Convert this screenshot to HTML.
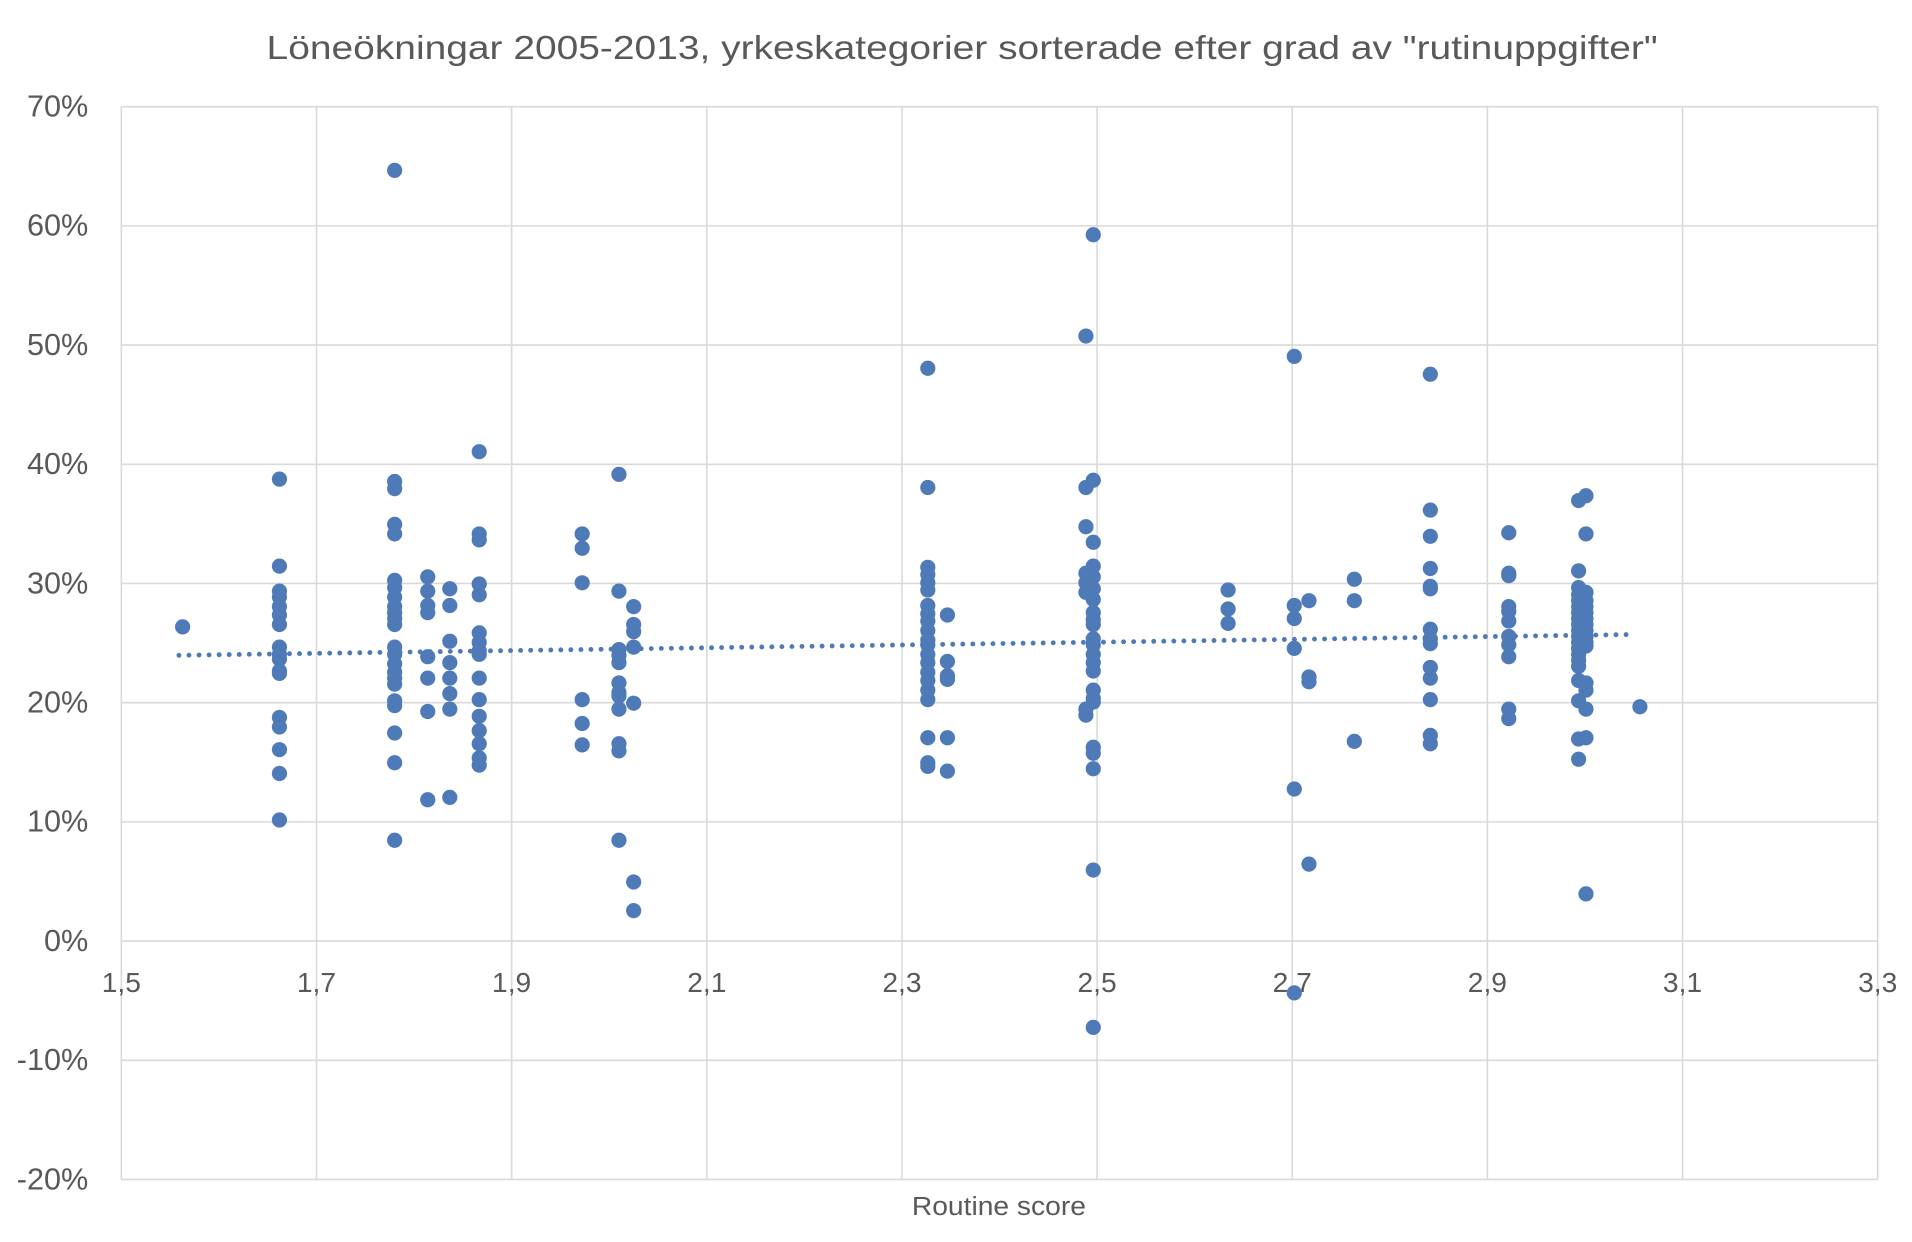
<!DOCTYPE html>
<html><head><meta charset="utf-8"><style>
html,body{margin:0;padding:0;background:#fff;}
svg{display:block;}
text{font-family:"Liberation Sans",sans-serif;fill:#595959;}
</style></head><body>
<svg id="s" width="1912" height="1242" viewBox="0 0 1560 1013" preserveAspectRatio="none" xmlns="http://www.w3.org/2000/svg">
<rect width="1560" height="1013" fill="#fff"/>
<g id="grid" stroke="#d9d9d9" stroke-width="1.3" fill="none"></g>
<g id="labels"></g>
<text x="785" y="48" font-size="27" text-anchor="middle" textLength="1135" lengthAdjust="spacingAndGlyphs">Löneökningar 2005-2013, yrkeskategorier sorterade efter grad av "rutinuppgifter"</text>
<text x="815" y="991" font-size="21" text-anchor="middle" textLength="142" lengthAdjust="spacingAndGlyphs">Routine score</text>
<line x1="146" y1="534.5" x2="1334" y2="517.5" stroke="#4f7ab8" stroke-width="4" stroke-linecap="round" stroke-dasharray="0 8.2"/>
<g id="pts" fill="#4f7ab8"></g>
</svg>
<script>
var ns="http://www.w3.org/2000/svg";
function el(p,t,a,txt){var e=document.createElementNS(ns,t);for(var k in a)e.setAttribute(k,a[k]);if(txt!=null)e.textContent=txt;p.appendChild(e);}
var g=document.getElementById('grid'),L=document.getElementById('labels'),P=document.getElementById('pts');
var x0=99,x1=1532,y0=87,y1=962;
for(var i=0;i<=9;i++){var y=y0+i*(y1-y0)/9;el(g,'line',{x1:x0,x2:x1,y1:y,y2:y});
 el(L,'text',{x:72,y:y+8,'font-size':25,'text-anchor':'end'},(70-i*10)+'%');}
var xl=['1,5','1,7','1,9','2,1','2,3','2,5','2,7','2,9','3,1','3,3'];
for(var i=0;i<=9;i++){var x=x0+i*(x1-x0)/9;el(g,'line',{x1:x,x2:x,y1:y0,y2:y1});
 el(L,'text',{x:x,y:809,'font-size':23,'text-anchor':'middle'},xl[i]);}
var D=[[149,[26.3]],
[228,[38.7,31.4,29.3,28.8,28,27.3,26.5,24.6,24,23.6,22.6,22.4,18.7,17.9,16,14,10.1]],
[322,[64.6,38.5,37.9,34.9,34.1,30.2,29.6,28.8,28,27.5,27,26.5,24.6,24,23.2,22.5,22,21.5,20.1,19.7,17.4,14.9,8.4]],
[349,[30.5,29.3,28.1,27.5,23.8,22,19.2,11.8]],
[367,[29.5,28.1,25.1,23.3,22,20.7,19.4,12]],
[391,[41,34.1,33.6,29.9,29,25.8,25,24.3,24,22,20.2,18.8,17.6,16.5,15.3,14.7]],
[475,[34.1,32.9,30,20.2,18.2,16.4]],
[505,[39.1,29.3,24.4,23.9,23.3,21.6,20.8,20.5,19.4,16.5,15.9,8.4]],
[517,[28,26.5,25.9,24.6,19.9,4.9,2.5]],
[757,[48,38,31.3,30.7,30,29.4,28.1,27.4,26.8,26,25.2,24.8,24,23.3,22.5,21.8,21,20.2,17,14.9,14.6]],
[773,[27.3,23.4,22.2,21.9,17,14.2]],
[886,[50.7,38,34.7,30.8,30,29.2,19.4,18.9]],
[892,[59.2,38.6,33.4,31.4,30.5,29.5,28.6,27.5,26.9,26.5,25.3,24.8,24,23.3,22.6,21,20.3,20,16.2,15.7,14.4,5.9,-7.3]],
[1002,[29.4,27.8,26.6]],
[1056,[49,28.1,27,24.5,12.7,-4.4]],
[1068,[28.5,22.1,21.7,6.4]],
[1105,[30.3,28.5,16.7]],
[1167,[47.5,36.1,33.9,31.2,29.7,29.5,26.1,25.3,24.9,22.9,22,20.2,17.2,16.5]],
[1231,[34.2,30.8,30.6,28,27.6,26.8,25.5,24.8,23.8,19.4,18.6]],
[1288,[36.9,31,29.6,29,28.5,28,27.5,27,26.5,26,25.5,25,24.5,24,23.5,23,21.8,20.1,16.9,15.2]],
[1294,[37.3,34.1,29.2,28.5,28,27.5,27,26.5,26,25.5,25,24.7,21.6,21,19.4,17,3.9]],
[1338,[19.6]]];
D.forEach(function(c){c[1].forEach(function(v){el(P,'circle',{cx:c[0],cy:767-v*9.722,r:6.2});});});
</script>
</body></html>
